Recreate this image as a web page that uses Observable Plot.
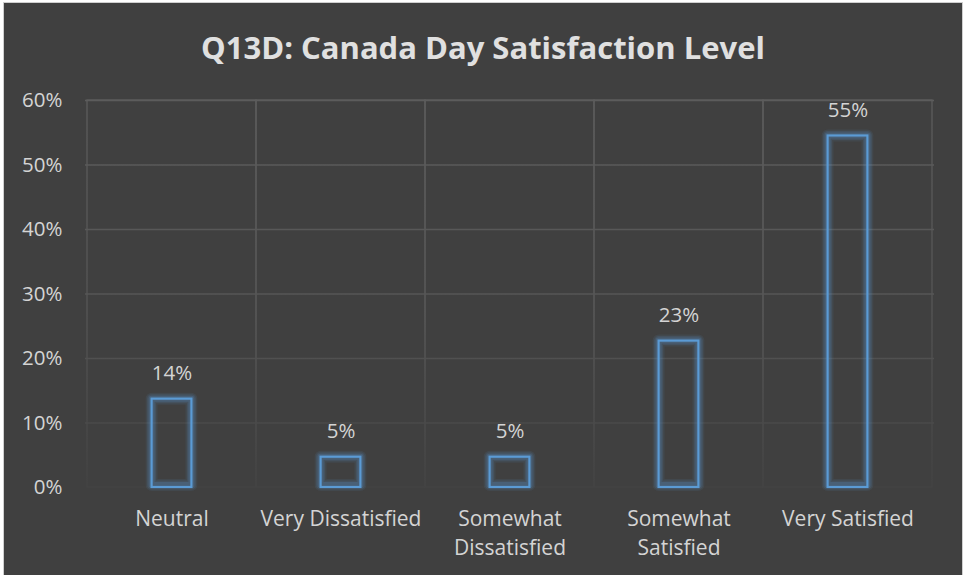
<!DOCTYPE html>
<html>
<head>
<meta charset="utf-8">
<script src="https://cdn.jsdelivr.net/npm/d3@7"></script>
<script src="https://cdn.jsdelivr.net/npm/@observablehq/plot@0.6"></script>
<style>
  html, body { margin: 0; padding: 0; background: #ffffff; }
  #chart {
    position: absolute; left: 3px; top: 2px;
    width: 958px; height: 575px;
    border: 1px solid #cfcfcf; border-bottom: none;
    background: #404040; overflow: hidden;
    font-family: "Open Sans", sans-serif;
  }
  #title {
    height: 77px; line-height: 88px; text-align: center;
    color: #e0e0e0; font-weight: bold; font-size: 31px;
  }
  svg { display: block; }
</style>
</head>
<body>
<div id="chart"><div id="title">Q13D: Canada Day Satisfaction Level</div></div>
<script>
const categories = ["Neutral", "Very Dissatisfied", "Somewhat Dissatisfied", "Somewhat Satisfied", "Very Satisfied"];
const tickLabels = ["Neutral", "Very Dissatisfied", "Somewhat\nDissatisfied", "Somewhat\nSatisfied", "Very Satisfied"];
const values = [0.137, 0.047, 0.047, 0.227, 0.545];
const yTicks = [0, 0.1, 0.2, 0.3, 0.4, 0.5, 0.6];

const data = categories.map((c, i) => ({category: c, value: values[i]}));
const labelOf = new Map(categories.map((c, i) => [c, tickLabels[i]]));
const pct = d3.format(".0%");

const textColor = "#d4d4d4";
const glowLayers = [
  {w: 12, o: 0.09},
  {w: 9, o: 0.13},
  {w: 6, o: 0.2}
];
const barOpts = {x: "category", y: "value", fill: "none", stroke: "#5b9bd5", insetLeft: 64.6, insetRight: 64.6, strokeLinejoin: "round"};

const plot = Plot.plot({
  width: 958,
  height: 495,
  marginTop: 20,
  marginBottom: 88,
  marginLeft: 81,
  marginRight: 28,
  style: {background: "transparent", fontFamily: "Open Sans, sans-serif", color: textColor},
  x: {type: "band", domain: categories, paddingInner: 0, paddingOuter: 0},
  y: {domain: [0, 0.6]},
  marks: [
    Plot.gridY(yTicks.slice(1), {stroke: "url(#gridGrad)", strokeOpacity: 1, strokeWidth: 1.3}),
    Plot.barY(categories, {x: d => d, y1: 0, y2: 0.6, fill: "none", stroke: "url(#gridGrad)", strokeWidth: 1.3}),
    Plot.axisY({ticks: yTicks, tickFormat: pct, tickSize: 0, tickPadding: 23, fontSize: 20.5, fill: textColor, label: null}),
    Plot.axisX({tickSize: 0, tickPadding: 18, fontSize: 21, lineHeight: 1.38, fill: textColor, label: null, tickFormat: d => labelOf.get(d)}),
    ...glowLayers.map(g => Plot.barY(data, {...barOpts, strokeWidth: g.w, strokeOpacity: g.o, insetBottom: 2})),
    Plot.barY(data, {...barOpts, strokeWidth: 2.2, strokeLinejoin: "miter"}),
    Plot.text(data, {x: "category", y: "value", text: d => pct(d.value), dy: -26, fontSize: 20.5, fill: textColor})
  ]
});

document.getElementById("chart").appendChild(plot);

// gradient for gridlines (fading toward the bottom)
const svg = d3.select(plot);
const defs = svg.insert("defs", ":first-child");
const grad = defs.append("linearGradient").attr("id", "gridGrad")
  .attr("gradientUnits", "userSpaceOnUse").attr("x1", 0).attr("x2", 0).attr("y1", 20).attr("y2", 407);
grad.append("stop").attr("offset", "0").attr("stop-color", "#5c5c5c");
grad.append("stop").attr("offset", "0.55").attr("stop-color", "#555555");
grad.append("stop").attr("offset", "1").attr("stop-color", "#434343");
</script>
</body>
</html>
